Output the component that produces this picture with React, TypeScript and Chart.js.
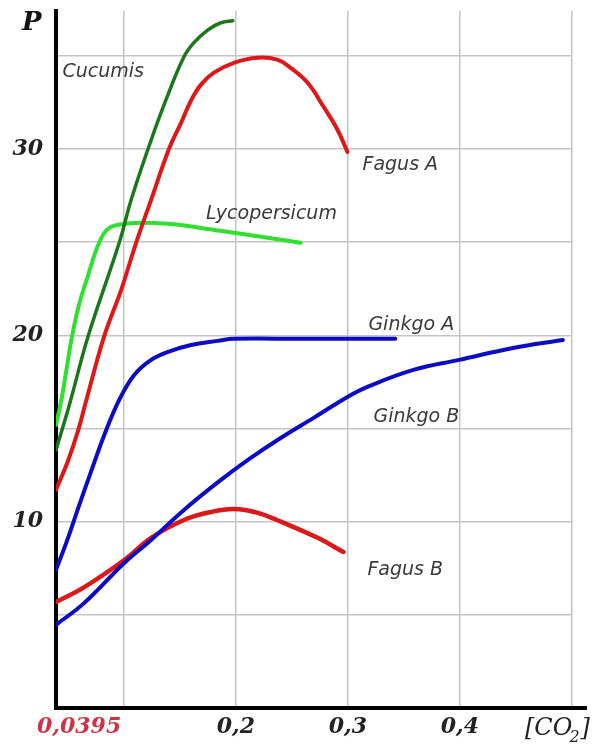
import React, { useEffect, useRef } from 'react';
import { Chart, registerables } from 'chart.js';

Chart.register(...registerables);

// ---- data (CO2 concentration, photosynthesis rate P) ----
const cucumisX = [0.0395, 0.0514, 0.0683, 0.0959, 0.1066, 0.1217, 0.1377, 0.1537, 0.1626, 0.1751, 0.1867, 0.1973];
const cucumisP = [13.85, 16.26, 19.97, 24.96, 27.27, 30.01, 32.64, 34.94, 35.7, 36.39, 36.77, 36.88];

const fagusAX = [0.0395, 0.0505, 0.0594, 0.0666, 0.0826, 0.0977, 0.111, 0.1244, 0.1404, 0.1511, 0.16, 0.1689, 0.1804, 0.1982, 0.2196, 0.2374, 0.2489, 0.2641, 0.2783, 0.2907, 0.2996];
const fagusAP = [11.7, 13.31, 14.92, 16.53, 19.97, 22.44, 24.96, 27.27, 30.01, 31.4, 32.6, 33.45, 34.09, 34.62, 34.89, 34.78, 34.35, 33.55, 32.26, 31.03, 29.84];

const lycoX = [0.0395, 0.0443, 0.0488, 0.0532, 0.0603, 0.0683, 0.0754, 0.0826, 0.0888, 0.095, 0.1093, 0.1395, 0.1689, 0.1982, 0.2285, 0.2578];
const lycoP = [15.19, 16.53, 18.14, 19.75, 21.7, 23.25, 24.58, 25.5, 25.82, 25.93, 26.03, 25.98, 25.76, 25.5, 25.23, 24.96];

const ginkgoAX = [0.0395, 0.0496, 0.0603, 0.071, 0.0826, 0.0959, 0.1093, 0.1244, 0.1395, 0.16, 0.184, 0.1982, 0.2578, 0.3423];
const ginkgoAP = [7.41, 9.02, 10.9, 12.72, 14.65, 16.53, 17.87, 18.68, 19.11, 19.48, 19.7, 19.81, 19.81, 19.81];

const ginkgoBX = [0.0395, 0.0648, 0.1004, 0.1244, 0.1537, 0.1867, 0.2133, 0.24, 0.2694, 0.2996, 0.3174, 0.3584, 0.3993, 0.4473, 0.4918];
const ginkgoBP = [4.46, 5.64, 7.78, 9.02, 10.63, 12.24, 13.42, 14.49, 15.57, 16.69, 17.23, 18.14, 18.68, 19.32, 19.75];

const fagusBX = [0.0395, 0.0648, 0.1004, 0.1244, 0.1537, 0.1778, 0.1982, 0.2196, 0.2427, 0.273, 0.296];
const fagusBP = [5.69, 6.49, 7.94, 9.13, 10.09, 10.52, 10.68, 10.47, 9.93, 9.13, 8.37];

// ---- ticks / labels ----
const xTickValues = [0.0395, 0.1, 0.2, 0.3, 0.4, 0.5];
const xTickLabels = ['', '', '0,2', '0,3', '0,4', ''];
const xStartLabel = '0,0395';
const yTickValues = [0, 5, 10, 15, 20, 25, 30, 35];
const yTickLabels = ['', '', '10', '', '20', '', '30', ''];
const yAxisTitle = 'P';

// series name labels, anchored in data coordinates (left / baseline)
const seriesNames = ['Cucumis', 'Lycopersicum', 'Fagus A', 'Ginkgo A', 'Ginkgo B', 'Fagus B'];
const nameAnchorX = [0.0452, 0.1733, 0.313, 0.3183, 0.3228, 0.3174];
const nameAnchorP = [33.87, 26.25, 28.88, 20.29, 15.35, 7.14];

const toPoints = (xs: number[], ps: number[]) => xs.map((x, i) => ({ x, y: ps[i] }));

const textPlugin = {
  id: 'texts',
  afterDraw(chart: any) {
    const { ctx, chartArea } = chart;
    const xs = chart.scales.x;
    const ys = chart.scales.y;
    ctx.save();
    ctx.strokeStyle = '#000';
    ctx.lineWidth = 4;
    ctx.beginPath();
    ctx.moveTo(chartArea.right - 2, chartArea.bottom);
    ctx.lineTo(chartArea.right + 15, chartArea.bottom);
    ctx.stroke();

    ctx.font = 'italic 19px "DejaVu Sans"';
    ctx.fillStyle = '#3a3a3a';
    ctx.textAlign = 'left';
    ctx.textBaseline = 'alphabetic';
    seriesNames.forEach((n, i) => {
      ctx.fillText(n, xs.getPixelForValue(nameAnchorX[i]), ys.getPixelForValue(nameAnchorP[i]));
    });

    ctx.font = 'italic bold 26px "DejaVu Serif"';
    ctx.fillStyle = '#151515';
    ctx.fillText(yAxisTitle, chartArea.left - 34, chartArea.top + 19);

    ctx.font = 'italic bold 22px "DejaVu Serif"';
    ctx.fillStyle = '#cc3344';
    ctx.fillText(xStartLabel, xs.getPixelForValue(xTickValues[0]) - 19, chartArea.bottom + 25);

    ctx.fillStyle = '#222';
    ctx.font = 'italic 24px "DejaVu Serif"';
    let px = chartArea.right - 47;
    const base = chartArea.bottom + 27;
    ctx.fillText('[CO', px, base);
    px += ctx.measureText('[CO').width;
    ctx.font = 'italic 16px "DejaVu Serif"';
    ctx.fillText('2', px - 3, base + 7);
    px += ctx.measureText('2').width - 2;
    ctx.font = 'italic 24px "DejaVu Serif"';
    ctx.fillText(']', px, base);
    ctx.restore();
  },
};

export default function App() {
  const ref = useRef<HTMLCanvasElement | null>(null);

  useEffect(() => {
    if (!ref.current) return;
    const mk = (label: string, xs: number[], ps: number[], color: string, w: number) => ({
      label,
      data: toPoints(xs, ps),
      borderColor: color,
      backgroundColor: color,
      borderWidth: w,
      pointRadius: 0,
      tension: 0.4,
      borderCapStyle: 'round' as const,
      borderJoinStyle: 'round' as const,
      fill: false,
    });
    const chart = new Chart(ref.current, {
      type: 'line',
      data: {
        datasets: [
          mk('Ginkgo B', ginkgoBX, ginkgoBP, '#0c0cc4', 4),
          mk('Fagus B', fagusBX, fagusBP, '#dc1818', 4.5),
          mk('Ginkgo A', ginkgoAX, ginkgoAP, '#0c0cc4', 4),
          mk('Cucumis', cucumisX, cucumisP, '#1c761c', 3.5),
          mk('Fagus A', fagusAX, fagusAP, '#dc1818', 4),
          mk('Lycopersicum', lycoX, lycoP, '#30e030', 4),
        ],
      },
      options: {
        animation: false,
        responsive: false,
        layout: { padding: { left: 0, right: 27, top: 11, bottom: 0 } },
        plugins: { legend: { display: false }, tooltip: { enabled: false } },
        scales: {
          x: {
            type: 'linear',
            min: 0.0395,
            max: 0.5,
            afterBuildTicks: (s: any) => {
              s.ticks = xTickValues.map((v) => ({ value: v }));
            },
            afterFit: (s: any) => {
              s.height = 41;
              s.paddingLeft = 0;
              s.paddingRight = 0;
            },
            grid: {
              drawTicks: false,
              color: (c: any) => (c.index === 0 ? 'rgba(0,0,0,0)' : '#c4c4c4'),
              lineWidth: 1.5,
            },
            border: { color: '#000', width: 4 },
            ticks: {
              autoSkip: false,
              maxRotation: 0,
              padding: 6,
              color: '#222',
              font: { family: '"DejaVu Serif"', size: 22, style: 'italic', weight: 'bold' },
              callback: (_v: any, i: number) => xTickLabels[i],
            },
          },
          y: {
            type: 'linear',
            min: 0,
            max: 37.4,
            afterBuildTicks: (s: any) => {
              s.ticks = yTickValues.map((v) => ({ value: v }));
            },
            afterFit: (s: any) => {
              s.width = 56;
              s.paddingTop = 0;
              s.paddingBottom = 0;
            },
            grid: {
              drawTicks: false,
              color: (c: any) => (c.index === 0 ? 'rgba(0,0,0,0)' : '#c4c4c4'),
              lineWidth: 1.5,
            },
            border: { color: '#000', width: 4 },
            ticks: {
              autoSkip: false,
              padding: 13,
              color: '#222',
              font: { family: '"DejaVu Serif"', size: 22, style: 'italic', weight: 'bold' },
              callback: (_v: any, i: number) => yTickLabels[i],
            },
          },
        },
      },
      plugins: [textPlugin],
    });
    return () => chart.destroy();
  }, []);

  return (
    <div style={{ position: 'fixed', left: 0, top: 0, width: 599, height: 749, background: '#fff' }}>
      <canvas ref={ref} width={599} height={749} style={{ display: 'block' }} />
    </div>
  );
}
